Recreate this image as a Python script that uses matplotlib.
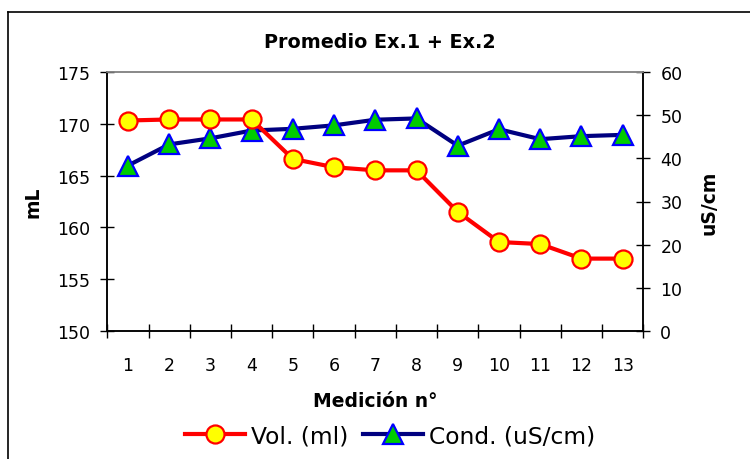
import numpy as np
import matplotlib
matplotlib.use("Agg")
import matplotlib.pyplot as plt
from matplotlib.lines import Line2D

categories = ["1", "2", "3", "4", "5", "6", "7", "8", "9", "10", "11", "12", "13"]
vol_ml = [170.3, 170.4, 170.4, 170.4, 166.6, 165.8, 165.5, 165.5, 161.5, 158.6, 158.4, 157.0, 157.0]
cond_us = [38.3, 43.2, 44.6, 46.4, 46.8, 47.6, 48.9, 49.2, 42.9, 46.7, 44.4, 45.1, 45.4]
left_ticks = [150, 155, 160, 165, 170, 175]
right_ticks = [0, 10, 20, 30, 40, 50, 60]

title = "Promedio Ex.1 + Ex.2"
xlabel = "Medición n°"
ylabel_left = "mL"
ylabel_right = "uS/cm"
label_vol = "Vol. (ml)"
label_cond = "Cond. (uS/cm)"

plt.rcParams['font.family'] = ['DejaVu Sans']

fig = plt.figure(figsize=(7.5, 4.6), dpi=100)
fig.patch.set_facecolor("white")

ax = fig.add_axes([107.3/750, 1-332.3/460, (643.3-107.3)/750, (332.3-72.7)/460])
ax2 = ax.twinx()

x = np.arange(1, len(categories) + 1)

l1, = ax.plot(x, vol_ml, color="#FF0000", lw=3.0, marker="o", ms=13,
              mfc="#FFFF00", mec="#FF0000", mew=1.6, zorder=3, label=label_vol)
l2, = ax2.plot(x, cond_us, color="#000080", lw=3.0, marker="^", ms=14,
               mfc="#00CC00", mec="#0000FF", mew=1.6, zorder=3, label=label_cond)

ax.set_zorder(ax2.get_zorder() + 1)
ax.patch.set_visible(False)

ax.set_xlim(0.5, len(categories) + 0.5)
ax.set_ylim(150, 175)
ax2.set_ylim(0, 60)
ax.set_yticks(left_ticks)
ax2.set_yticks(right_ticks)

# x ticks at category boundaries, labels at centers
ax.set_xticks(np.arange(0.5, len(categories) + 1, 1.0))
ax.set_xticklabels([])
ax.set_xticks(x, minor=True)
ax.set_xticklabels(categories, minor=True)
ax.tick_params(axis="x", which="major", direction="inout", length=9.5, width=1.0, color="black")
ax.tick_params(axis="x", which="minor", length=0, pad=18, labelsize=12.5)

ax.tick_params(axis="y", direction="inout", length=9.5, width=1.0, pad=7.5, labelsize=12.5)
ax2.tick_params(axis="y", direction="inout", length=9.5, width=1.0, pad=7.5, labelsize=12.5)

for a in (ax, ax2):
    for s in ("left", "right", "bottom"):
        a.spines[s].set_color("black")
        a.spines[s].set_linewidth(1.1)
    a.spines["top"].set_color("#888888")
    a.spines["top"].set_linewidth(1.2)

ax.set_ylabel(ylabel_left, fontsize=13.5, fontweight="bold")
ax.yaxis.set_label_coords(-(107.3-42)/536, 0.5)
ax2.set_ylabel(ylabel_right, fontsize=13.5, fontweight="bold", rotation=90)
ax2.yaxis.set_label_coords((700-107.3)/536, 0.5)

fig.text(380/750, 1-42/460, title, ha="center", va="center", fontsize=13.8, fontweight="bold")
fig.text(375/750, 1-402/460, xlabel, ha="center", va="center", fontsize=13.5, fontweight="bold")

fig.legend(handles=[l1, l2], loc="center", bbox_to_anchor=(390/750, 1-437/460),
           ncol=2, frameon=False, fontsize=16.8, handlelength=2.6,
           handletextpad=0.25, columnspacing=0.6, borderaxespad=0)

# outer chart frame (clipped at right and bottom)
fig.add_artist(Line2D([8/750, 8/750], [0, 1-12.7/460], transform=fig.transFigure,
                      color="black", lw=1.2))
fig.add_artist(Line2D([8/750, 1], [1-12.7/460, 1-12.7/460], transform=fig.transFigure,
                      color="black", lw=1.2))

fig.savefig("out.png", dpi=100, facecolor="white")
